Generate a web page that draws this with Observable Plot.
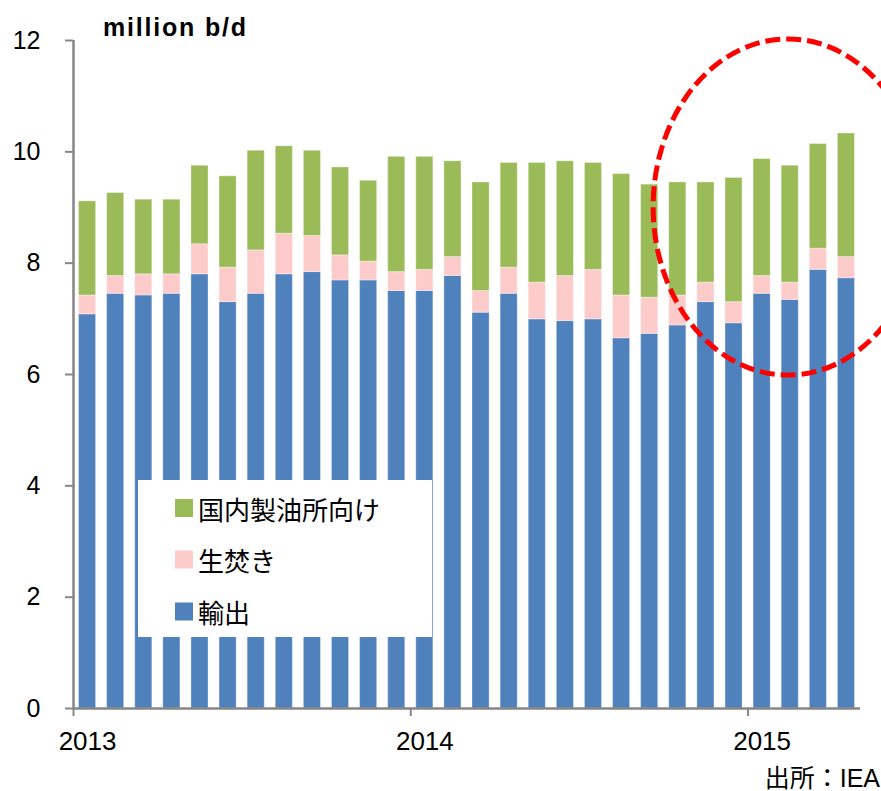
<!DOCTYPE html>
<html>
<head>
<meta charset="utf-8">
<script src="https://cdn.jsdelivr.net/npm/d3@7"></script>
<script src="https://cdn.jsdelivr.net/npm/@observablehq/plot@0.6"></script>
<style>
  html, body { margin: 0; padding: 0; background: #ffffff; }
  #chart { width: 881px; height: 791px; }
</style>
</head>
<body>
<div id="chart"></div>
<script>
// ---- data ----
const months = [
  "2013-01","2013-02","2013-03","2013-04","2013-05","2013-06","2013-07","2013-08","2013-09","2013-10","2013-11","2013-12",
  "2014-01","2014-02","2014-03","2014-04","2014-05","2014-06","2014-07","2014-08","2014-09","2014-10","2014-11","2014-12",
  "2015-01","2015-02","2015-03","2015-04"
];
const seriesNames = ["輸出", "生焚き", "国内製油所向け"];           // bottom -> top
const seriesColors = ["#4F81BD", "#FECBCB", "#9BBB59"];
const exportsVals = [7.08,7.45,7.42,7.45,7.80,7.30,7.45,7.80,7.84,7.69,7.69,7.50,
                     7.50,7.77,7.11,7.45,6.99,6.96,6.99,6.65,6.73,6.88,7.30,6.92,
                     7.45,7.34,7.88,7.73];
const crudeBurnVals = [0.34,0.32,0.38,0.35,0.54,0.62,0.78,0.73,0.65,0.45,0.34,0.34,
                       0.38,0.34,0.39,0.47,0.66,0.81,0.89,0.77,0.65,0.54,0.35,0.38,
                       0.32,0.31,0.38,0.38];
const refineryVals = [1.69,1.49,1.34,1.34,1.41,1.64,1.79,1.57,1.53,1.58,1.45,2.07,
                      2.03,1.72,1.95,1.88,2.15,2.06,1.92,2.18,2.03,2.03,1.80,2.23,
                      2.10,2.10,1.88,2.22];
const yTicks = [0, 2, 4, 6, 8, 10, 12];
const yearLabels = ["2013", "2014", "2015"];
const unitLabel = "million b/d";
const sourceLabel = "出所：IEA";
// annotation ellipse (in data units: month index, million b/d)
const highlight = {cx: 25.44, cy: 9.0, rx: 4.8, ry: 3.02};

// ---- build table ----
const seriesValues = [exportsVals, crudeBurnVals, refineryVals];
const data = [];
seriesNames.forEach((name, s) => {
  months.forEach((m, i) => data.push({i, month: m, series: name, value: seriesValues[s][i]}));
});
const yearStarts = yearLabels.map(yl => months.findIndex(m => m.startsWith(yl)));
const yearMids = yearStarts.map(i => i + 0.5);

const FONT = "'Liberation Sans', Arial, 'Noto Sans CJK JP', sans-serif";
const AXIS = "#868686";

const plot = Plot.plot({
  width: 881,
  height: 791,
  marginLeft: 73,
  marginRight: 21,
  marginTop: 40,
  marginBottom: 83,
  style: {fontFamily: FONT, background: "white", color: "black", overflow: "hidden"},
  x: {type: "linear", domain: [0, months.length]},
  y: {domain: [0, 12]},
  color: {domain: seriesNames, range: seriesColors},
  marks: [
    Plot.rectY(data, {
      x1: "i", x2: d => d.i + 1, y: "value", fill: "series",
      insetLeft: 5.5, insetRight: 5.5,
      stroke: "white", strokeOpacity: 0.35, strokeWidth: 1
    }),
    Plot.axisY(yTicks, {
      tickSize: 8, tickPadding: 25, fontSize: 25,
      stroke: AXIS, strokeWidth: 2, fill: "black", label: null,
      tickFormat: d => String(d)
    }),
    Plot.axisX(yearStarts, {
      tickSize: 8, tickPadding: 0, stroke: AXIS, strokeWidth: 2,
      tickFormat: () => "", label: null
    }),
    Plot.axisX(yearMids, {
      tickSize: 0, tickPadding: 23, fontSize: 26, fill: "black",
      tickFormat: d => yearLabels[yearMids.indexOf(d)], label: null
    }),
    Plot.ruleX([0], {stroke: AXIS, strokeWidth: 2.5}),
    Plot.ruleY([0], {stroke: AXIS, strokeWidth: 2.5})
  ]
});

document.getElementById("chart").appendChild(plot);

const svg = d3.select(plot);
const xs = plot.scale("x"), ys = plot.scale("y");

// title (unit)
svg.append("text")
  .attr("x", 103).attr("y", 36)
  .attr("text-anchor", "start")
  .attr("font-family", FONT).attr("font-weight", "bold")
  .attr("font-size", 25).attr("letter-spacing", 1.8)
  .attr("fill", "black")
  .text(unitLabel);

// source
svg.append("text")
  .attr("x", 880).attr("y", 787)
  .attr("text-anchor", "end")
  .attr("font-family", FONT).attr("font-size", 25)
  .attr("fill", "black")
  .text(sourceLabel);

// legend (top to bottom: reversed stack order)
const lg = svg.append("g");
lg.append("rect").attr("x", 138).attr("y", 480).attr("width", 294).attr("height", 157).attr("fill", "white");
const legendOrder = seriesNames.slice().reverse();
const rowY = [508, 559.5, 611.5];
legendOrder.forEach((name, k) => {
  const c = seriesColors[seriesNames.indexOf(name)];
  lg.append("rect").attr("x", 175).attr("y", rowY[k] - 9).attr("width", 18).attr("height", 18).attr("fill", c);
  lg.append("text").attr("x", 198).attr("y", rowY[k])
    .attr("text-anchor", "start")
    .attr("dominant-baseline", "central")
    .attr("font-family", "'Noto Sans CJK JP', sans-serif").attr("font-size", 26)
    .attr("fill", "black")
    .text(name);
});

// highlight ellipse
const cx = xs.apply(highlight.cx), cy = ys.apply(highlight.cy);
svg.append("ellipse")
  .attr("cx", cx).attr("cy", cy)
  .attr("rx", xs.apply(highlight.cx + highlight.rx) - cx)
  .attr("ry", cy - ys.apply(highlight.cy + highlight.ry))
  .attr("fill", "none").attr("stroke", "#FF0000")
  .attr("stroke-width", 5).attr("stroke-dasharray", "15,6");
</script>
</body>
</html>
